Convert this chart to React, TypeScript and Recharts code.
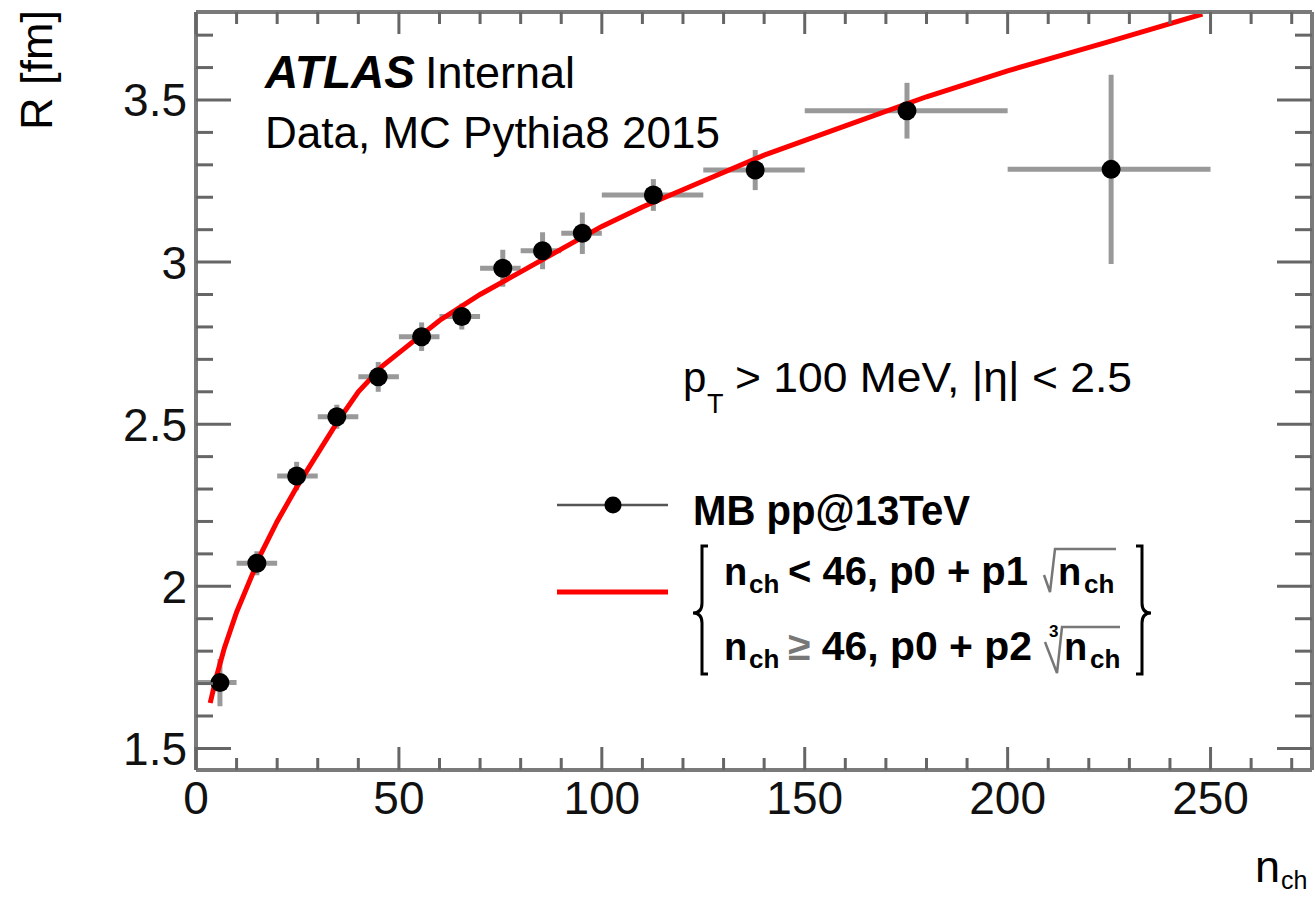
import React from 'react';
import { ComposedChart, XAxis, YAxis, Scatter, Line, ErrorBar } from 'recharts';

// ---- data ----
const nch = [5.9, 15, 24.8, 34.7, 44.9, 55.6, 65.5, 75.6, 85.4, 95.2, 112.7, 137.8, 175.2, 225.5];
const radius = [1.703, 2.071, 2.34, 2.523, 2.646, 2.77, 2.832, 2.981, 3.035, 3.089, 3.207, 3.284, 3.467, 3.286];
const binLow = [0.5, 10, 20, 30, 40, 50, 60, 70, 80, 90, 100, 125, 150, 200];
const binHigh = [10, 20, 30, 40, 50, 60, 70, 80, 90, 100, 125, 150, 200, 250];
const radiusErr = [0.073, 0.037, 0.044, 0.037, 0.046, 0.044, 0.04, 0.057, 0.057, 0.064, 0.049, 0.062, 0.086, 0.292];

const fitN = [3.5, 5, 7, 10, 13, 16, 20, 25, 30, 35, 40, 46, 50, 60, 70, 80, 90, 100, 110, 125, 140, 160, 180, 200, 225, 248];
const fitR = [1.64, 1.72, 1.81, 1.92, 2.01, 2.1, 2.2, 2.31, 2.41, 2.51, 2.6, 2.68, 2.72, 2.82, 2.9, 2.97, 3.04, 3.11, 3.17, 3.25, 3.33, 3.42, 3.51, 3.59, 3.68, 3.765];

const xMajorTicks = [0, 50, 100, 150, 200, 250];
const xAllTicks = [0, 10, 20, 30, 40, 50, 60, 70, 80, 90, 100, 110, 120, 130, 140, 150, 160, 170, 180, 190, 200, 210, 220, 230, 240, 250, 260, 270];
const yMajorTicks = [1.5, 2, 2.5, 3, 3.5];
const yAllTicks = [1.5, 1.6, 1.7, 1.8, 1.9, 2, 2.1, 2.2, 2.3, 2.4, 2.5, 2.6, 2.7, 2.8, 2.9, 3, 3.1, 3.2, 3.3, 3.4, 3.5, 3.6, 3.7];

const xDomain = [0, 275];
const yDomain = [1.4334, 3.7714];

// ---- tables built for the library ----
const points = nch.map((x, i) => ({
  x,
  y: radius[i],
  xErr: [x - binLow[i], binHigh[i] - x],
  yErr: radiusErr[i],
}));
const fitData = fitN.map((x, i) => ({ x, y: fitR[i] }));

const FONT = '"Liberation Sans", Arial, Helvetica, sans-serif';
const TICK_COLOR = '#666';
const FRAME_COLOR = '#7a7a7a';

const isMajor = (v: number, majors: number[]) => majors.some((m) => Math.abs(m - v) < 1e-6);

const BottomTick = (p: any) => {
  const v = p.payload.value;
  const major = isMajor(v, xMajorTicks);
  return (
    <g>
      <line x1={p.x} x2={p.x} y1={p.y} y2={p.y - (major ? 23 : 12)} stroke={TICK_COLOR} strokeWidth={3} />
      {major && (
        <text x={p.x} y={p.y + 44} textAnchor="middle" fontSize={46} fontFamily={FONT} fill="#111">
          {String(v)}
        </text>
      )}
    </g>
  );
};

const TopTick = (p: any) => {
  const v = p.payload.value;
  const major = isMajor(v, xMajorTicks);
  return <line x1={p.x} x2={p.x} y1={p.y} y2={p.y + (major ? 22 : 12)} stroke={TICK_COLOR} strokeWidth={3} />;
};

const LeftTick = (p: any) => {
  const v = p.payload.value;
  const major = isMajor(v, yMajorTicks);
  return (
    <g>
      <line x1={p.x} x2={p.x + (major ? 35 : 17)} y1={p.y} y2={p.y} stroke={TICK_COLOR} strokeWidth={3} />
      {major && (
        <text x={p.x - 9} y={p.y + 16.5} textAnchor="end" fontSize={46} fontFamily={FONT} fill="#111">
          {String(v)}
        </text>
      )}
    </g>
  );
};

const RightTick = (p: any) => {
  const v = p.payload.value;
  const major = isMajor(v, yMajorTicks);
  return <line x1={p.x} x2={p.x - (major ? 35 : 17)} y1={p.y} y2={p.y} stroke={TICK_COLOR} strokeWidth={3} />;
};

const Dot = (p: any) => <circle cx={p.cx} cy={p.cy} r={9.5} fill="#000" />;

const Overlay = () => (
  <svg
    width={1315}
    height={897}
    style={{ position: 'absolute', left: 0, top: 0, pointerEvents: 'none' }}
    fontFamily={FONT}
  >
    {/* ATLAS label */}
    <text x={265} y={88} fontSize={46} fontWeight="bold" fontStyle="italic" fill="#000">ATLAS</text>
    <text x={425} y={88} fontSize={45} fill="#000">Internal</text>
    <text x={265} y={148} fontSize={44} fill="#000">Data, MC Pythia8 2015</text>

    {/* kinematic cuts */}
    <text x={683} y={392} fontSize={42} fill="#000">p</text>
    <text x={707} y={413} fontSize={27} fill="#000">T</text>
    <text x={735} y={392} fontSize={42} fill="#000" textLength={397} lengthAdjust="spacingAndGlyphs">{'> 100 MeV, |η| < 2.5'}</text>

    {/* legend: data */}
    <line x1={557} x2={668} y1={505} y2={505} stroke="#555" strokeWidth={2.5} />
    <circle cx={613} cy={505} r={8.5} fill="#000" />
    <text x={693} y={525} fontSize={42} fontWeight="bold" fill="#000" textLength={277} lengthAdjust="spacingAndGlyphs">MB pp@13TeV</text>

    {/* legend: fit */}
    <line x1={557} x2={668} y1={592} y2={592} stroke="#ff0000" strokeWidth={5} />
    <path d="M 708 546 L 702 546 L 702 603 Q 702 613 693 613 Q 702 613 702 623 L 702 674 L 708 674" stroke="#000" strokeWidth={3} fill="none" />
    <path d="M 1136 546 L 1142 546 L 1142 603 Q 1142 613 1151 613 Q 1142 613 1142 623 L 1142 674 L 1136 674" stroke="#000" strokeWidth={3} fill="none" />

    <text x={724} y={585} fontSize={38} fontWeight="bold" fill="#000">n</text>
    <text x={749} y={593} fontSize={26} fontWeight="bold" fill="#000">ch</text>
    <text x={788} y={585} fontSize={40} fontWeight="bold" fill="#000" textLength={240} lengthAdjust="spacingAndGlyphs">{'< 46, p0 + p1'}</text>
    <path d="M 1044 575 L 1050 592 L 1055 549 L 1116 549" stroke="#777" strokeWidth={2.5} fill="none" />
    <text x={1058} y={585} fontSize={38} fontWeight="bold" fill="#000">n</text>
    <text x={1084} y={593} fontSize={26} fontWeight="bold" fill="#000">ch</text>

    <text x={724} y={660} fontSize={38} fontWeight="bold" fill="#000">n</text>
    <text x={749} y={668} fontSize={26} fontWeight="bold" fill="#000">ch</text>
    <text x={788} y={660} fontSize={40} fontWeight="bold" fill="#000" textLength={244} lengthAdjust="spacingAndGlyphs">
      <tspan fill="#777">≥</tspan>
      <tspan>{' 46, p0 + p2'}</tspan>
    </text>
    <text x={1049} y={637} fontSize={17} fontWeight="bold" fill="#000">3</text>
    <path d="M 1045 642 L 1057 673 L 1062 627 L 1120 627" stroke="#777" strokeWidth={2.5} fill="none" />
    <text x={1064} y={660} fontSize={38} fontWeight="bold" fill="#000">n</text>
    <text x={1090} y={668} fontSize={26} fontWeight="bold" fill="#000">ch</text>

    {/* axis titles */}
    <text transform="translate(52,10) rotate(-90)" textAnchor="end" fontSize={45} fill="#000">R [fm]</text>
    <text x={1255} y={882} fontSize={45} fill="#000">n</text>
    <text x={1281} y={889} fontSize={25} fill="#000">ch</text>
  </svg>
);

export default function App() {
  return (
    <div style={{ position: 'absolute', left: 0, top: 0, width: 1315, height: 897, background: '#fff' }}>
      <ComposedChart width={1315} height={897} margin={{ top: 0, right: 0, bottom: 0, left: 0 }}>
        <XAxis
          xAxisId="b"
          type="number"
          dataKey="x"
          orientation="bottom"
          domain={xDomain}
          ticks={xAllTicks}
          interval={0}
          allowDataOverflow
          height={127}
          tickSize={0}
          tickMargin={0}
          tickLine={false}
          tick={<BottomTick />}
          axisLine={{ stroke: FRAME_COLOR, strokeWidth: 4 }}
        />
        <XAxis
          xAxisId="t"
          type="number"
          dataKey="x"
          orientation="top"
          domain={xDomain}
          ticks={xAllTicks}
          interval={0}
          allowDataOverflow
          height={12}
          tickSize={0}
          tickMargin={0}
          tickLine={false}
          tick={<TopTick />}
          axisLine={{ stroke: FRAME_COLOR, strokeWidth: 4 }}
        />
        <YAxis
          yAxisId="l"
          type="number"
          dataKey="y"
          orientation="left"
          domain={yDomain}
          ticks={yAllTicks}
          interval={0}
          allowDataOverflow
          width={196}
          tickSize={0}
          tickMargin={0}
          tickLine={false}
          tick={<LeftTick />}
          axisLine={{ stroke: FRAME_COLOR, strokeWidth: 4 }}
        />
        <YAxis
          yAxisId="r"
          type="number"
          dataKey="y"
          orientation="right"
          domain={yDomain}
          ticks={yAllTicks}
          interval={0}
          allowDataOverflow
          width={3}
          tickSize={0}
          tickMargin={0}
          tickLine={false}
          tick={<RightTick />}
          axisLine={{ stroke: FRAME_COLOR, strokeWidth: 4 }}
        />
        <Scatter
          data={points}
          xAxisId="b"
          yAxisId="l"
          dataKey="y"
          shape={<Dot />}
          isAnimationActive={false}
          legendType="none"
        >
          <ErrorBar dataKey="xErr" direction="x" width={0} stroke="#999" strokeWidth={5} />
          <ErrorBar dataKey="yErr" direction="y" width={0} stroke="#999" strokeWidth={5} />
        </Scatter>
        <Line
          data={fitData}
          xAxisId="b"
          yAxisId="l"
          dataKey="y"
          type="linear"
          stroke="#ff0000"
          strokeWidth={5}
          dot={false}
          activeDot={false}
          isAnimationActive={false}
          legendType="none"
        />
      </ComposedChart>
      <Overlay />
    </div>
  );
}
